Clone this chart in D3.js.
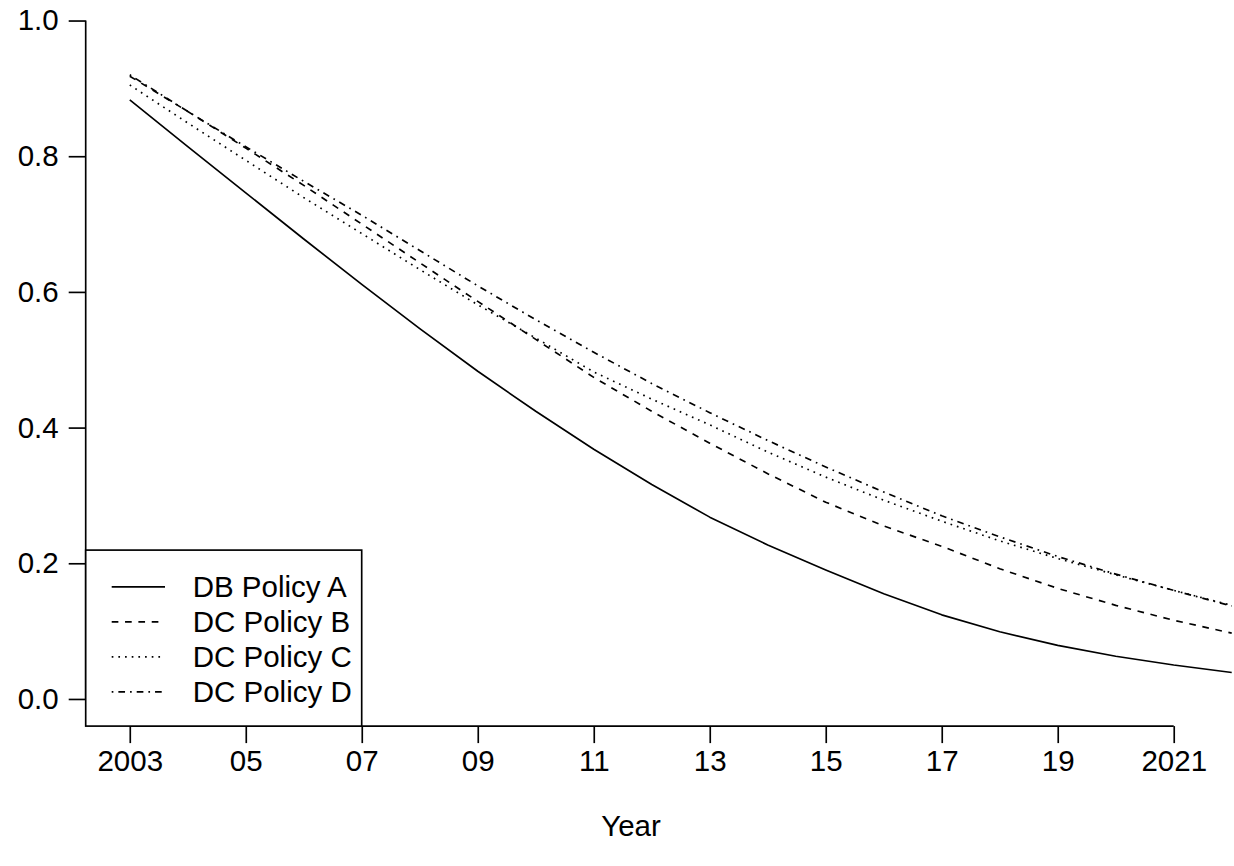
<!DOCTYPE html>
<html>
<head>
<meta charset="utf-8">
<script src="https://cdn.jsdelivr.net/npm/d3@7"></script>
<style>
  html, body { margin: 0; padding: 0; background: #fff; }
  svg { display: block; }
  text { font-family: "Liberation Sans", Arial, Helvetica, sans-serif; fill: #000; }
</style>
</head>
<body>
<svg id="chart" width="1234" height="866"></svg>
<script>
const years = [2003,2004,2005,2006,2007,2008,2009,2010,2011,2012,2013,2014,2015,2016,2017,2018,2019,2020,2021,2022];
const policyA = [0.883,0.814,0.746,0.678,0.611,0.546,0.483,0.424,0.368,0.316,0.268,0.227,0.190,0.155,0.124,0.099,0.079,0.063,0.050,0.039];
const policyB = [0.918,0.866,0.812,0.757,0.700,0.643,0.586,0.530,0.474,0.424,0.377,0.332,0.290,0.255,0.225,0.192,0.163,0.138,0.116,0.097];
const policyC = [0.905,0.849,0.794,0.739,0.686,0.633,0.581,0.532,0.482,0.442,0.404,0.364,0.327,0.293,0.262,0.233,0.207,0.183,0.160,0.138];
const policyD = [0.920,0.866,0.814,0.763,0.713,0.661,0.609,0.559,0.511,0.465,0.422,0.381,0.342,0.305,0.270,0.239,0.210,0.184,0.160,0.137];
const seriesNames = ["DB Policy A","DC Policy B","DC Policy C","DC Policy D"];
const xTickValues = [2003,2005,2007,2009,2011,2013,2015,2017,2019,2021];
const xTickLabels = ["2003","05","07","09","11","13","15","17","19","2021"];
const yTickValues = [0,0.2,0.4,0.6,0.8,1.0];
const yTickLabels = ["0.0","0.2","0.4","0.6","0.8","1.0"];
const xTitle = "Year";

const series = [policyA, policyB, policyC, policyD];
const dashes = [null, "6.67,6.67", "1.67,5", "1.67,5,6.67,5"];
const LW = 1.67;
const FS = 29.5;

const svg = d3.select("#chart");

// plot region (R-style 4% padding)
const x = d3.scaleLinear().domain([2002.24, 2022.76]).range([85.7, 1275.8]);
const y = d3.scaleLinear().domain([-0.04, 1.04]).range([726.1, -6.6]);

// data lines
const line = d3.line().x((d,i) => x(years[i])).y(d => y(d));
series.forEach((s, k) => {
  svg.append("path")
    .datum(s)
    .attr("d", line)
    .attr("fill", "none")
    .attr("stroke", "#000")
    .attr("stroke-width", LW)
    .attr("stroke-dasharray", dashes[k])
    .attr("stroke-linecap", "butt")
    .attr("stroke-linejoin", "round");
});

// y axis
const yAxis = d3.axisLeft(y)
  .tickValues(yTickValues)
  .tickFormat((d,i) => yTickLabels[i])
  .tickSize(17)
  .tickSizeOuter(0)
  .tickPadding(10);
const gy = svg.append("g").attr("transform", `translate(${x(2002.24)},0)`).call(yAxis);
gy.select(".domain").remove();
gy.append("line")
  .attr("x1", 0).attr("x2", 0)
  .attr("y1", y(0)).attr("y2", y(1))
  .attr("stroke", "#000").attr("stroke-width", LW);

// x axis
const xAxis = d3.axisBottom(x)
  .tickValues(xTickValues)
  .tickFormat((d,i) => xTickLabels[i])
  .tickSize(17)
  .tickSizeOuter(0)
  .tickPadding(7);
const gx = svg.append("g").attr("transform", `translate(0,${y(-0.04)})`).call(xAxis);
gx.select(".domain").remove();
gx.append("line")
  .attr("x1", x(2003)).attr("x2", x(2021))
  .attr("y1", 0).attr("y2", 0)
  .attr("stroke", "#000").attr("stroke-width", LW);

[gx, gy].forEach(g => {
  g.selectAll(".tick line").attr("stroke", "#000").attr("stroke-width", LW);
  g.selectAll(".tick text")
    .style("font-family", "'Liberation Sans', Arial, Helvetica, sans-serif")
    .style("font-size", FS + "px")
    .attr("fill", "#000");
});
gx.selectAll(".tick text").attr("dy", "0.71em");

// x title
svg.append("text")
  .attr("x", 631)
  .attr("y", 825)
  .attr("text-anchor", "middle")
  .attr("dominant-baseline", "central")
  .style("font-size", FS + "px")
  .text(xTitle);

// legend (bottom-left of plot region)
const legX0 = x(2002.24), legY1 = y(-0.04);
const legW = 276, legH = 176;
const lg = svg.append("g");
lg.append("rect")
  .attr("x", legX0).attr("y", legY1 - legH)
  .attr("width", legW).attr("height", legH)
  .attr("fill", "#fff").attr("stroke", "#000").attr("stroke-width", LW);
seriesNames.forEach((name, k) => {
  const cy = legY1 - legH + 36.7 + k * 35;
  lg.append("line")
    .attr("x1", legX0 + 26).attr("x2", legX0 + 79.3)
    .attr("y1", cy).attr("y2", cy)
    .attr("stroke", "#000").attr("stroke-width", LW)
    .attr("stroke-dasharray", dashes[k]);
  lg.append("text")
    .attr("x", legX0 + 107)
    .attr("y", cy)
    .attr("dominant-baseline", "central")
    .style("font-size", FS + "px")
    .text(name);
});
</script>
</body>
</html>
